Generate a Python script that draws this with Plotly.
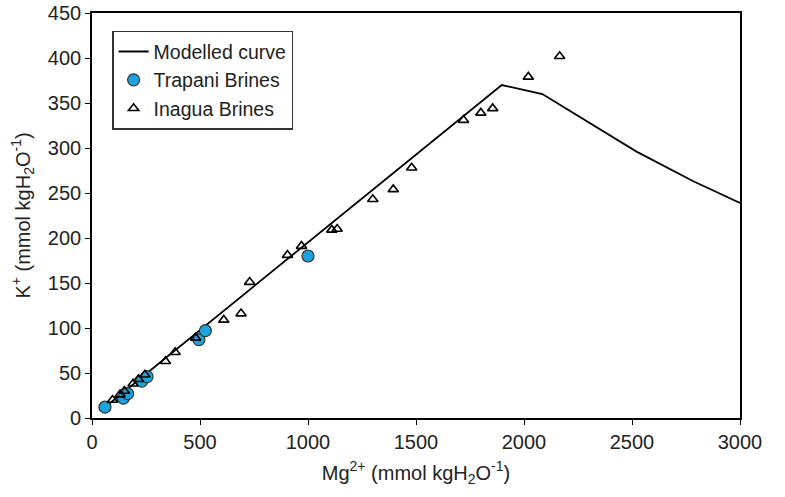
import plotly.graph_objects as go

# Modelled curve
model_mg = [60, 1897, 2085, 2521, 2784, 3000]
model_k = [12, 370, 360, 296, 263, 239]

# Trapani Brines
trapani_mg = [60, 145, 165, 230, 255, 495, 525, 1000]
trapani_k = [12, 22, 27, 41, 46, 87, 97, 180]

# Inagua Brines
inagua_mg = [95, 130, 150, 190, 215, 245, 340, 385, 480, 610, 690, 730, 905, 970,
             1110, 1135, 1300, 1395, 1480, 1720, 1800, 1855, 2020, 2165]
inagua_k = [20, 26, 30, 38, 43, 48, 63, 73, 89, 109, 116, 151, 181, 191,
            209, 210, 243, 254, 278, 331, 339, 344, 379, 402]

x_ticks = [0, 500, 1000, 1500, 2000, 2500, 3000]
y_ticks = [0, 50, 100, 150, 200, 250, 300, 350, 400, 450]

FONT = "Liberation Sans, Arial, sans-serif"
TXT = "#222222"

fig = go.Figure()
fig.add_trace(go.Scatter(x=model_mg, y=model_k, mode="lines", name="Modelled curve",
                         line=dict(color="black", width=1.8)))
fig.add_trace(go.Scatter(x=trapani_mg, y=trapani_k, mode="markers", name="Trapani Brines",
                         marker=dict(symbol="circle", size=12, color="#1ba3de",
                                     line=dict(color="#333333", width=1.2))))
fig.add_trace(go.Scatter(x=inagua_mg, y=inagua_k, mode="markers", name="Inagua Brines",
                         marker=dict(symbol="triangle-up-open", size=9, color="black",
                                     line=dict(color="black", width=1.6))))

axis_common = dict(showgrid=False, zeroline=False, showline=True, linecolor="black",
                   linewidth=1.6, mirror=True, ticks="outside", ticklen=5,
                   tickwidth=1.4, tickcolor="black", automargin=False,
                   tickfont=dict(family=FONT, size=20, color=TXT))

fig.update_xaxes(range=[0, 3000], tickvals=x_ticks, **axis_common,
                 title=dict(text="Mg<sup>2+</sup> (mmol kgH<sub>2</sub>O<sup>-1</sup>)",
                            font=dict(family=FONT, size=20, color=TXT), standoff=14))
fig.update_yaxes(range=[0, 450], tickvals=y_ticks, **axis_common,
                 title=dict(text="K<sup>+</sup> (mmol kgH<sub>2</sub>O<sup>-1</sup>)",
                            font=dict(family=FONT, size=20, color=TXT), standoff=12))

fig.update_layout(
    width=785, height=497,
    margin=dict(l=92, r=45, t=13, b=79),
    plot_bgcolor="white", paper_bgcolor="white",
    showlegend=True,
    hovermode=False,
    legend=dict(x=0.031, y=0.956, xanchor="left", yanchor="top",
                bgcolor="white", bordercolor="#333333", borderwidth=1.5,
                font=dict(family=FONT, size=19.5, color=TXT),
                itemwidth=30, tracegroupgap=0),
)

fig.write_html("out.html", config={"displayModeBar": False},
               post_script="document.body.style.margin='0';")
